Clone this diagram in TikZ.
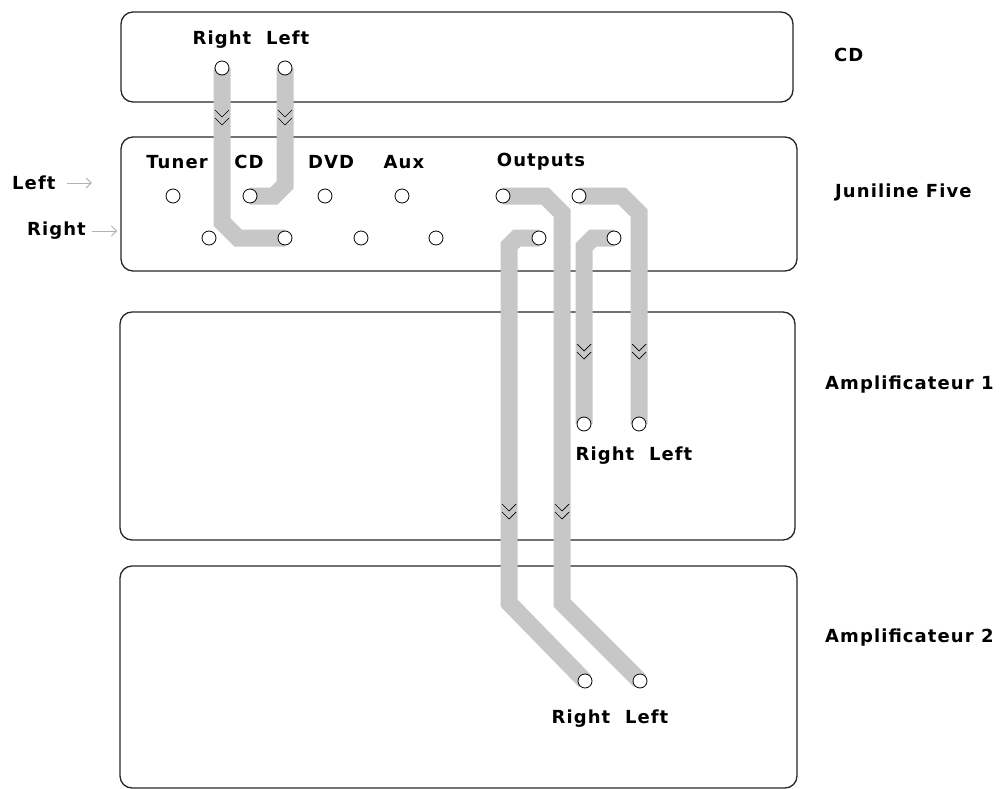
\documentclass[tikz,border=0pt]{standalone}
\usepackage{fontspec}
\usetikzlibrary{arrows.meta}
\setmainfont{DejaVu Sans}[LetterSpace=6]
\begin{document}
\begin{tikzpicture}[x=1pt,y=-1pt,
	unit/.style={draw=black!85,line width=1.3pt,rounded corners=12pt},
	cable/.style={draw=black!22,line width=17pt,line join=miter},
	jack/.style={circle,draw,line width=0.8pt,fill=white,inner sep=0pt,minimum size=14pt},
	lbl/.style={font=\bfseries\fontsize{18}{20}\selectfont,inner sep=0pt},
	chev/.style={draw=black,line width=0.7pt},
	hint/.style={-{Straight Barb[length=5pt,width=10pt]},draw=black!30,line width=0.9pt}]
				\useasboundingbox (0,0) rectangle (1001,789);

				% jacks
				\coordinate (cdR) at (222,68);
				\coordinate (cdL) at (285,68);
				\coordinate (tunerL) at (173,196);
				\coordinate (cdinL) at (250,196);
				\coordinate (dvdL) at (325,196);
				\coordinate (auxL) at (402,196);
				\coordinate (outAL) at (503,196);
				\coordinate (outBL) at (579,196);
				\coordinate (tunerR) at (209,238);
				\coordinate (cdinR) at (285,238);
				\coordinate (dvdR) at (361,238);
				\coordinate (auxR) at (436,238);
				\coordinate (outAR) at (539,238);
				\coordinate (outBR) at (614,238);
				\coordinate (ampaR) at (584,424);
				\coordinate (ampaL) at (639,424);
				\coordinate (ampbR) at (585,681);
				\coordinate (ampbL) at (640,681);

				% units
				\draw[unit] (121,12) rectangle (793,102);
				\draw[unit] (121,137) rectangle (797,271);
				\draw[unit] (120,312) rectangle (795,540);
				\draw[unit] (120,566) rectangle (797,788);
				\node[lbl,anchor=west] (cdname) at (834,55) {CD};
				\node[lbl,anchor=west] (juname) at (835,192) {Juniline Five};
				\node[lbl,anchor=west] (ampaname) at (825,385) {Amplificateur 1};
				\node[lbl,anchor=west] (ampbname) at (825,638) {Amplificateur 2};

				% cables
				\draw[cable] (cdR) -- (222,222) -- (238,238) -- (cdinR);
				\draw[cable] (cdL) -- (285,185) -- (274,196) -- (cdinL);
				\draw[cable] (outAL) -- (545,196) -- (562,213) -- (562,603) -- (ampbL);
				\draw[cable] (outAR) -- (517,238) -- (509,246) -- (509,603) -- (ampbR);
				\draw[cable] (outBL) -- (622,196) -- (639,213) -- (ampaL);
				\draw[cable] (outBR) -- (593,238) -- (584,247) -- (ampaR);
				\foreach \x/\y in {222/110,285/110,584/344,639/344,509/504,562/504}
				{
					\draw[chev] (\x-7,\y) -- (\x,\y+7) -- (\x+7,\y);
					\draw[chev] (\x-7,\y+8) -- (\x,\y+15) -- (\x+7,\y+8);
				}

				\foreach \j in {cdR,cdL,tunerL,cdinL,dvdL,auxL,outAL,outBL,tunerR,cdinR,dvdR,auxR,outAR,outBR,ampaR,ampaL,ampbR,ampbL}
					\node[jack] (\j-jack) at (\j) {};

				% labels
				\node[lbl] (cdlabel) at (251,40) {Right\ \ Left};
				\node[lbl] (tunerlabel) at (177,162) {Tuner};
				\node[lbl] (cdinlabel) at (249,162) {CD};
				\node[lbl] (dvdlabel) at (331,162) {DVD};
				\node[lbl] (auxlabel) at (404,162) {Aux};
				\node[lbl] (outlabel) at (541,162) {Outputs};
				\node[lbl] (ampalabel) at (634,456) {Right\ \ Left};
				\node[lbl] (ampblabel) at (610,719) {Right\ \ Left};
				\node[lbl,anchor=west] (rowL) at (12,183) {Left};
				\node[lbl,anchor=west] (rowR) at (27,231) {Right};
				\draw[hint] ([xshift=11pt]rowL.east) -- ++(25,0);
				\draw[hint] ([xshift=6pt]rowR.east) -- ++(25,0);
			\end{tikzpicture}
\end{document}
